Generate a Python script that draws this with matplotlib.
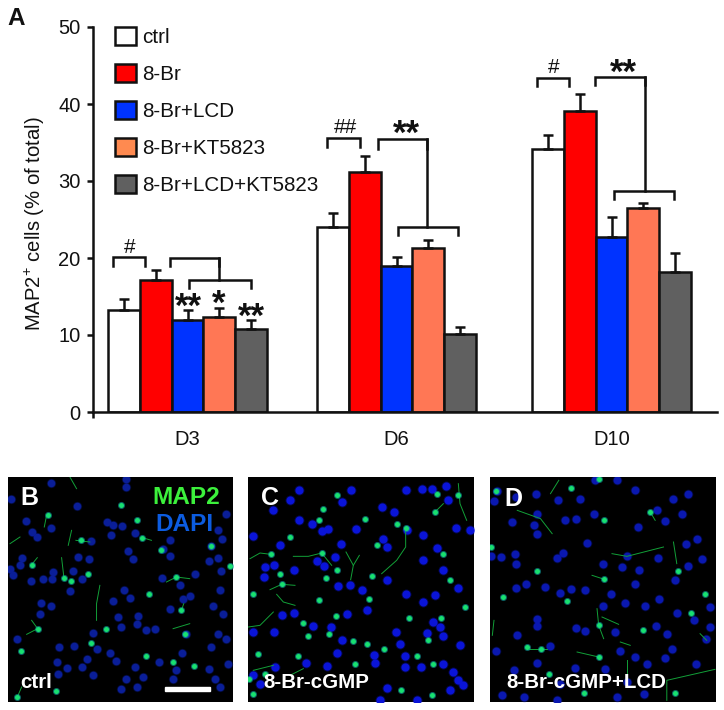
#!/usr/bin/env python3
"""Bar chart of MAP2+ cells with three fluorescence micrograph panels."""
import matplotlib
matplotlib.use('Agg')
import matplotlib.pyplot as plt

plt.rcParams['font.family'] = ['Liberation Sans', 'DejaVu Sans']
plt.rcParams['mathtext.default'] = 'regular'

days = ['D3', 'D6', 'D10']
treatments = ['ctrl', '8-Br', '8-Br+LCD', '8-Br+KT5823', '8-Br+LCD+KT5823']
bar_colors = ['#ffffff', '#ff0000', '#0033ff', '#ff7755', '#606060']

ctrl_vals = [13.3, 24.0, 34.2]
br_vals = [17.1, 31.2, 39.1]
lcd_vals = [11.9, 19.0, 22.7]
kt_vals = [12.4, 21.3, 26.5]
both_vals = [10.8, 10.1, 18.2]

ctrl_err = [1.4, 1.8, 1.8]
br_err = [1.3, 2.0, 2.2]
lcd_err = [1.3, 1.1, 2.6]
kt_err = [1.1, 1.0, 0.6]
both_err = [1.1, 0.9, 2.5]

# micrograph marks (x, y in panel units)
b_nuclei = [(153,37),(378,25),(378,50),(34,85),(232,107),(78,152),(95,185),(110,200),(152,172),(320,155),
            (340,165),(368,168),(405,187),(333,195),(272,213),(512,210),(635,228),(490,235),(510,258),(668,207),
            (680,130),(655,180),(233,260),(267,265),(385,243),(400,267),(65,262),(60,285),(30,295),(40,315),
            (160,305),(130,325),(155,325),(218,303),(247,325),(93,333),(210,363),(373,358),(392,383),(340,393),
            (355,440),(488,322),(587,312),(540,345),(627,272),(655,262),(665,303),(660,358),(570,378),(123,398),
            (152,408),(120,430),(510,415),(550,385),(640,408),(670,430),(416,436),(412,462),(440,480),(465,475),
            (362,470),(280,488),(50,505),(178,530),(222,527),(290,535),(330,548),(348,573),(260,565),(172,575),
            (200,592),(247,590),(175,612),(280,615),(405,590),(478,575),(548,548),(635,530),(655,490),(678,505),
            (560,490),(530,600),(628,595),(685,580),(520,625),(645,625),(660,650),(365,655),(412,650),(430,620),
            (380,625)]
b_somas = [(365,103),(412,148),(143,135),(243,210),(428,202),(95,283),(485,240),(634,228),(690,288),(192,322),
           (212,332),(265,312),(530,320),(447,370),(545,420),(113,475),(318,477),(272,518),(555,492),(438,557),
           (520,575),(582,587),(62,543),(168,662),(52,680)]
b_neurites = [[(140,135),(133,170)], [(210,20),(230,55)], [(205,225),(215,180)], [(228,210),(270,215)],
              [(428,202),(455,210)], [(95,283),(112,262)], [(192,322),(185,262)], [(300,345),(290,400),(290,450)],
              [(500,335),(530,320),(570,325)], [(113,475),(95,450)], [(113,475),(80,492)], [(520,475),(570,460)],
              [(52,680),(65,650)], [(545,420),(552,400)], [(30,220),(60,200)]]

c_nuclei = [(178,58),(150,88),(100,118),(178,150),(215,160),(245,182),(265,175),(348,175),(332,60),(305,95),
            (427,110),(462,125),(498,58),(545,55),(575,55),(617,48),(623,90),(648,172),(550,195),(502,180),
            (440,230),(428,205),(120,225),(302,222),(40,198),(230,272),(253,288),(285,260),(75,290),(103,285),
            (72,320),(162,298),(293,348),(330,343),(365,358),(440,328),(548,268),(592,232),(610,298),(655,352),
            (498,370),(585,375),(548,395),(380,420),(322,432),(125,435),(162,427),(578,455),(600,470),(220,467),
            (272,470),(103,485),(40,485),(467,485),(562,488),(307,508),(610,497),(660,525),(402,555),(405,577),
            (495,558),(480,520),(290,548),(260,588),(197,578),(105,590),(495,590),(543,590),(610,582),(640,605),
            (440,652),(655,630),(670,645),(630,660),(420,690),(530,690),(60,640),(40,615),(690,180)]
c_somas = [(150,200),(238,148),(248,115),(292,75),(375,147),(470,160),(497,172),(245,248),(92,252),(290,300),
           (395,318),(258,322),(120,312),(127,342),(38,370),(388,385),(238,390),(288,438),(188,458),(205,497),
           (268,492),(340,512),(382,522),(432,535),(508,443),(603,443),(630,330),(675,410),(608,250),(412,225),
           (585,125),(590,70),(655,75),(55,552),(173,556),(345,580),(530,556),(580,580),(563,508),(483,660),
           (575,673),(40,670),(28,625),(75,610)]
c_neurites = [[(30,265),(60,248),(92,252)], [(160,258),(205,258),(245,248)], [(245,248),(275,285)],
              [(318,245),(340,285),(332,328)], [(340,285),(358,255)], [(497,172),(497,230),(470,270),(425,310)],
              [(90,358),(125,342),(165,345)], [(110,372),(130,395),(165,405)], [(25,470),(60,465),(100,425)],
              [(655,40),(660,100),(680,150)], [(585,125),(610,100)], [(40,600),(100,585)], [(150,615),(190,595)]]

d_nuclei = [(48,62),(40,92),(105,80),(165,70),(232,90),(300,85),(345,28),(410,28),(465,58),(578,85),
            (625,72),(530,118),(555,152),(607,132),(170,130),(95,155),(253,148),(288,147),(342,132),(473,170),
            (160,165),(170,192),(650,207),(618,222),(320,217),(248,247),(230,262),(62,260),(105,282),(102,250),
            (30,258),(440,258),(368,282),(425,290),(477,300),(532,262),(625,287),(665,265),(585,330),(135,340),
            (105,352),(192,350),(315,358),(272,355),(240,368),(463,342),(393,370),(535,385),(495,408),(433,397),
            (368,408),(590,428),(690,410),(642,450),(170,447),(168,467),(288,472),(403,485),(528,468),(690,470),
            (108,494),(315,482),(560,492),(678,505),(45,542),(210,528),(418,543),(577,537),(465,560),(168,577),
            (500,580),(555,562),(285,592),(375,595),(648,580),(100,600),(440,635),(65,675),(130,680),(240,640),
            (490,670),(410,680),(230,690)]
d_somas = [(272,52),(355,25),(372,150),(32,230),(168,302),(595,302),(68,380),(260,393),(372,327),(675,370),
           (633,427),(355,465),(488,478),(138,530),(180,535),(355,560),(205,612),(585,668),(310,668),(46,62),(510,125)]
d_neurites = [[(110,120),(180,145),(215,190)], [(510,125),(525,150)], [(580,215),(590,280)],
              [(395,250),(440,258),(550,230)], [(335,315),(372,327)], [(350,415),(355,465),(370,505)],
              [(40,450),(35,495)], [(365,440),(415,462)], [(145,535),(200,535)], [(560,690),(560,630),(705,597)],
              [(420,515),(450,525)], [(290,545),(355,560)], [(440,570),(440,620)], [(210,70),(235,30)],
              [(660,490),(680,510)]]

W, H = 724, 710
INK = '#111111'
LW = 1.8


def px_axes(fig, left, top, right, bottom):
    return fig.add_axes([left / W, 1 - bottom / H, (right - left) / W, (bottom - top) / H])


def bracket(ax, x0, x1, top, leg):
    ax.plot([x0, x0, x1, x1], [leg, top, top, leg], color=INK, lw=LW, solid_joinstyle='miter', zorder=6)


def micrograph(fig, left, right, xlim, nuclei, somas, neurites, nuc_color, nuc_size):
    ax = px_axes(fig, left, 477, right, 702)
    ax.set_xlim(*xlim)
    ax.set_ylim(695, 20)
    ax.axis('off')
    ax.add_patch(plt.Rectangle((xlim[0], 20), xlim[1] - xlim[0], 675, color='black', zorder=0))
    ax.scatter(*zip(*nuclei), s=nuc_size * 1.5, color=nuc_color, alpha=0.35, linewidths=0, zorder=1)
    ax.scatter(*zip(*nuclei), s=nuc_size, color=nuc_color, linewidths=0, zorder=1)
    for path in neurites:
        ax.plot(*zip(*path), color='#12a038', lw=0.7, zorder=2)
    ax.scatter(*zip(*somas), s=26, color='#10a0a0', alpha=0.6, linewidths=0, zorder=3)
    ax.scatter(*zip(*somas), s=13, color='#18e070', linewidths=0, zorder=4)
    return ax


fig = plt.figure(figsize=(W / 100, H / 100), dpi=100)
ax = px_axes(fig, 93, 27, 717, 412)
ax.set_xlim(93, 717)
ax.set_ylim(0, 50)

centers = [187.5, 396.5, 611.5]
bar_w = 31.8
series = [ctrl_vals, br_vals, lcd_vals, kt_vals, both_vals]
errors = [ctrl_err, br_err, lcd_err, kt_err, both_err]
for i, (vals, errs) in enumerate(zip(series, errors)):
    xs = [c + (i - 2) * bar_w for c in centers]
    ax.bar(xs, vals, width=bar_w, color=bar_colors[i], edgecolor=INK, linewidth=LW,
           yerr=[[0, 0, 0], errs], label=treatments[i], zorder=3,
           error_kw=dict(ecolor=INK, elinewidth=LW, capsize=3.6, capthick=LW))

for side in ['top', 'right']:
    ax.spines[side].set_visible(False)
for side in ['left', 'bottom']:
    ax.spines[side].set_linewidth(LW)
    ax.spines[side].set_color(INK)
    ax.spines[side].set_zorder(5)

ax.set_yticks([0, 10, 20, 30, 40, 50])
ax.tick_params(axis='y', labelsize=14.5, length=4.5, width=LW, pad=4.5, color=INK, labelcolor=INK)
ax.set_xticks(centers)
ax.set_xticklabels(days)
ax.tick_params(axis='x', which='major', length=0, pad=13, labelsize=14.5, labelcolor=INK)
ax.set_xticks([93], minor=True)
ax.tick_params(axis='x', which='minor', length=4.5, width=LW, color=INK)
ax.set_ylabel('MAP2$^{+}$ cells (% of total)', fontsize=14.6, color=INK)
ax.yaxis.set_label_coords(-0.074, 0.49)

leg = ax.legend(loc='upper left', bbox_to_anchor=(0.036, 1.0), frameon=False, fontsize=14.9,
                handlelength=1.0, handleheight=0.95, handletextpad=0.3, labelspacing=0.82,
                borderpad=0, borderaxespad=0, labelcolor=INK)
leg.legend_handles[3].set_facecolor('#ff8a50')

# significance brackets
bracket(ax, 113, 145, 20.1, 19.0)
bracket(ax, 170, 219, 20.0, 18.9)
ax.plot([219, 219], [20.0, 17.1], color=INK, lw=LW, zorder=6)
bracket(ax, 189, 251, 17.1, 16.1)
bracket(ax, 327, 360, 35.6, 34.4)
bracket(ax, 378, 427, 35.4, 34.2)
ax.plot([427, 427], [35.4, 24.0], color=INK, lw=LW, zorder=6)
bracket(ax, 398, 458, 24.0, 23.0)
bracket(ax, 537, 569, 43.4, 42.4)
bracket(ax, 595, 645, 43.5, 42.5)
ax.plot([645, 645], [43.5, 28.7], color=INK, lw=LW, zorder=6)
bracket(ax, 614, 674, 28.7, 27.7)

for x, y, s in [(130, 21.4, '#'), (345, 36.9, '##'), (554, 44.8, '#')]:
    ax.text(x, y, s, fontsize=15, ha='center', va='center', color=INK, zorder=7)
for x, y, s in [(188, 12.3, '**'), (219, 12.7, '*'), (251, 11.1, '**'), (406, 34.8, '**'), (623, 42.7, '**')]:
    ax.text(x, y, s, fontsize=25, fontweight='bold', ha='center', va='baseline', color=INK, zorder=7)

fig.text(7 / W, 1 - 25 / H, 'A', fontsize=17.5, fontweight='bold', color=INK)

# micrograph panels
bx = micrograph(fig, 8, 233, (24, 700), b_nuclei, b_somas, b_neurites, '#0a1e98', 30)
cx = micrograph(fig, 248, 474, (24, 702), c_nuclei, c_somas, c_neurites, '#0a14d8', 34)
dx = micrograph(fig, 490, 716, (28, 708), d_nuclei, d_somas, d_neurites, '#0a18b0', 32)

bx.add_patch(plt.Rectangle((497, 650), 135, 13, color='white', zorder=6))
panel_font = dict(color='white', fontweight='bold', zorder=7, va='center')
bx.text(62, 83, 'B', fontsize=18, **panel_font)
cx.text(64, 83, 'C', fontsize=18, **panel_font)
dx.text(72, 85, 'D', fontsize=18, **panel_font)
bx.text(62, 636, 'ctrl', fontsize=14.8, **panel_font)
cx.text(70, 635, '8-Br-cGMP', fontsize=14.8, **panel_font)
dx.text(76, 635, '8-Br-cGMP+LCD', fontsize=14.8, **panel_font)
bx.text(660, 80, 'MAP2', fontsize=17.6, fontweight='bold', color='#3cf03c', ha='right', va='center', zorder=7)
bx.text(640, 163, 'DAPI', fontsize=17.6, fontweight='bold', color='#0c5ce0', ha='right', va='center', zorder=7)

fig.savefig('out.png', dpi=100)
